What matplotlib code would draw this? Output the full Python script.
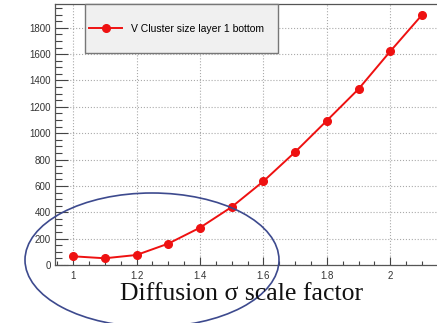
import numpy as np
import matplotlib.pyplot as plt
from matplotlib.patches import Ellipse, Rectangle
from matplotlib.ticker import MultipleLocator

# data
scale = [1.0, 1.1, 1.2, 1.3, 1.4, 1.5, 1.6, 1.7, 1.8, 1.9, 2.0, 2.1]
cluster = [66, 51, 76, 162, 283, 440, 635, 857, 1095, 1335, 1621, 1897]
xticks = [1, 1.2, 1.4, 1.6, 1.8, 2]
xticklabels = ['1', '1.2', '1.4', '1.6', '1.8', '2']
yticks = [0, 200, 400, 600, 800, 1000, 1200, 1400, 1600, 1800]
label = 'V Cluster size layer 1 bottom'
xlabel = 'Diffusion \u03c3 scale factor'

W, H = 437, 323


def main():
    fig = plt.figure(figsize=(W / 100, H / 100), dpi=100)
    ax = fig.add_axes([55 / W, 58 / H, 386 / W, 261 / H])

    ax.plot(scale, cluster, color='#ee1111', lw=1.4, marker='o', ms=5.5,
            label=label)
    ax.set_xlim(0.943, 2.16)
    ax.set_ylim(0, 1980)

    ax.set_xticks(xticks)
    ax.set_xticklabels(xticklabels)
    ax.set_yticks(yticks)
    ax.xaxis.set_minor_locator(MultipleLocator(0.05))
    ax.yaxis.set_minor_locator(MultipleLocator(50))
    ax.tick_params(which='both', direction='in', labelsize=7,
                   labelcolor='#333333', color='#444444', width=0.8)
    ax.tick_params(axis='x', which='major', length=6, pad=4)
    ax.tick_params(axis='x', which='minor', length=3)
    ax.tick_params(axis='y', which='major', length=9, pad=3)
    ax.tick_params(axis='y', which='minor', length=5)
    for t in ax.get_xticklabels() + ax.get_yticklabels():
        t.set_family('Liberation Sans')
    for s in ax.spines.values():
        s.set_color('#555555')
        s.set_linewidth(0.9)
    ax.grid(True, which='major', ls=':', color='#aaaaaa', lw=0.8)

    # legend box as in the reference (fixed size)
    box = Rectangle((85 / W, (H - 53) / H), 193 / W, 49 / H,
                    transform=fig.transFigure, facecolor='#f0f0f0',
                    edgecolor='#777777', lw=1.0, zorder=4, clip_on=False)
    ax.add_artist(box)
    leg = ax.legend(loc='center left', frameon=False,
                    bbox_to_anchor=(89 / W, (H - 28.5) / H),
                    bbox_transform=fig.transFigure,
                    prop={'family': 'Liberation Sans', 'size': 7.5},
                    handlelength=3.2, handletextpad=0.8, borderpad=0,
                    borderaxespad=0)
    leg.set_zorder(5)

    fig.text(242 / W, 23 / H, xlabel, ha='center', va='baseline',
             family='Liberation Serif', size=18.5, color='#111111')

    ell = Ellipse((152 / 100, (H - 260) / 100), 254 / 100, 134 / 100,
                  transform=fig.dpi_scale_trans, fill=False,
                  edgecolor='#3d4a8e', lw=1.2)
    fig.add_artist(ell)

    fig.savefig('out.png', dpi=100)


if __name__ == "__main__":
    main()
